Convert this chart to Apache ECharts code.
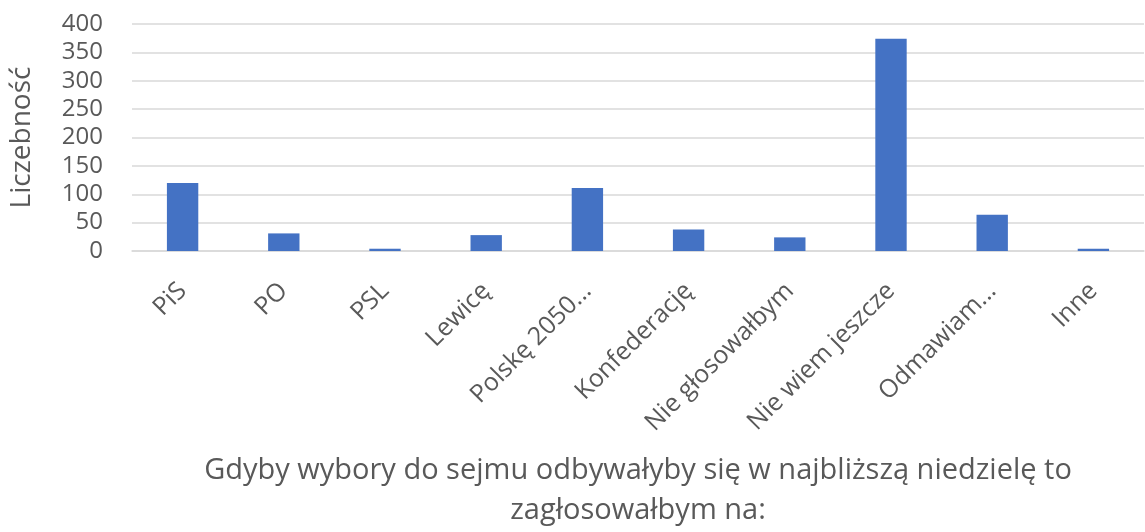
<!DOCTYPE html>
<html>
<head>
<meta charset="utf-8">
<script src="https://cdn.jsdelivr.net/npm/echarts@6/dist/echarts.min.js"></script>
<style>
  html, body { margin: 0; padding: 0; background: #fff; }
  #chart { width: 1145px; height: 532px; }
</style>
</head>
<body>
<div id="chart"></div>
<script>
// kategorie i liczebności
var categories = ['PiS', 'PO', 'PSL', 'Lewicę', 'Polskę 2050...', 'Konfederację',
  'Nie głosowałbym', 'Nie wiem jeszcze', 'Odmawiam...', 'Inne'];
var counts = [120, 31, 4, 28, 111, 38, 24, 374, 64, 4];
var yTicks = [0, 50, 100, 150, 200, 250, 300, 350, 400];

var font = '"Open Sans", "DejaVu Sans", sans-serif';
var chartsDom = document.getElementById('chart');
var myChart = echarts.init(chartsDom);

var option = {
  animation: false,
  textStyle: { fontFamily: font, color: '#595959' },
  grid: { left: 124, right: 1, top: 24, bottom: 274, containLabel: false },
  xAxis: {
    type: 'category',
    data: categories,
    name: 'Gdyby wybory do sejmu odbywałyby się w najbliższą niedzielę to\nzagłosowałbym na:',
    nameLocation: 'middle',
    nameGap: 200,
    nameTextStyle: { fontSize: 29, color: '#595959', lineHeight: 40, fontFamily: font },
    axisLine: { show: true, lineStyle: { color: '#d9d9d9', width: 1.5 } },
    axisTick: { show: false },
    axisLabel: {
      rotate: 45, fontSize: 25, color: '#595959', margin: 36, interval: 0,
      fontFamily: font
    }
  },
  yAxis: {
    type: 'value',
    min: yTicks[0],
    max: yTicks[yTicks.length - 1],
    interval: 50,
    name: 'Liczebność',
    nameLocation: 'middle',
    nameGap: 96,
    nameTextStyle: { fontSize: 28, color: '#595959', fontFamily: font },
    axisLine: { show: false },
    axisTick: { show: false },
    axisLabel: { fontSize: 24, color: '#595959', margin: 29, fontFamily: font },
    splitLine: { lineStyle: { color: '#d9d9d9', width: 1.5 } }
  },
  series: [{
    type: 'bar',
    data: counts,
    barWidth: '31%',
    itemStyle: { color: '#4472C4' }
  }]
};

myChart.setOption(option);
</script>
</body>
</html>
